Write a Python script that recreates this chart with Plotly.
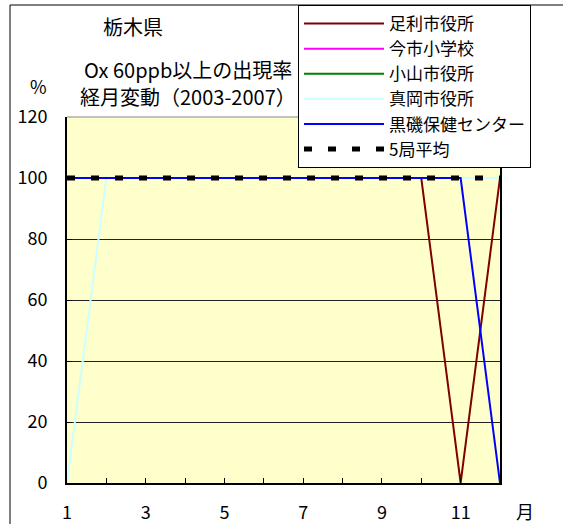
import plotly.graph_objects as go

months = list(range(1, 13))
series_names = ["足利市役所", "今市小学校", "小山市役所", "真岡市役所", "黒磯保健センター", "5局平均"]
ashikaga = [100, 100, 100, 100, 100, 100, 100, 100, 100, 100, 0, 100]
imaichi = [100, 100, 100, 100, 100, 100, 100, 100, 100, 100, 100, 100]
oyama = [100, 100, 100, 100, 100, 100, 100, 100, 100, 100, 100, 100]
moka = [0, 100, 100, 100, 100, 100, 100, 100, 100, 100, 100, 100]
kuroiso = [100, 100, 100, 100, 100, 100, 100, 100, 100, 100, 100, 0]
avg5 = [100, 100, 100, 100, 100, 100, 100, 100, 100, 100, 100, 100]
xtick_labels = ["1", "", "3", "", "5", "", "7", "", "9", "", "11", ""]
ytick_vals = [0, 20, 40, 60, 80, 100, 120]

FONT = "Noto Sans CJK JP"
colors = ["#800000", "#FF00FF", "#008000", "#CCFFFF", "#0000FF", "#000000"]
values = [ashikaga, imaichi, oyama, moka, kuroiso, avg5]

fig = go.Figure()
for name, vals, col in zip(series_names, values, colors):
    if name == "5局平均":
        line = dict(color=col, width=5, dash="8px,16px")
    else:
        line = dict(color=col, width=2)
    fig.add_trace(go.Scatter(x=months, y=vals, mode="lines", name=name, line=line))

W, H = 563, 524
L, R, T, B = 67, 500, 117, 483
def px(x):
    return (x - L) / (R - L)
def py(y):
    return (B - y) / (B - T)

def ann(text, x, y, size):
    return dict(text=text, x=px(x), y=py(y), xref="paper", yref="paper",
                xanchor="center", yanchor="middle", showarrow=False,
                font=dict(size=size))

fig.update_layout(
    width=W, height=H,
    margin=dict(l=L, r=W - R, t=T, b=H - B, autoexpand=False),
    paper_bgcolor="white",
    plot_bgcolor="#FFFFCC",
    font=dict(family=FONT, size=18, color="black"),
    showlegend=True,
    legend=dict(
        x=px(298), y=py(5), xanchor="left", yanchor="top",
        bgcolor="white", bordercolor="black", borderwidth=1,
        font=dict(family=FONT, size=17),
        itemwidth=80,
    ),
    xaxis=dict(
        range=[1, 12], tickvals=months, ticktext=xtick_labels,
        ticks="inside", ticklen=5, tickcolor="black",
        showline=True, linecolor="black", linewidth=2,
        showgrid=False, zeroline=False, ticklabelstandoff=12,
        tickfont=dict(size=18), automargin=False,
    ),
    yaxis=dict(
        range=[0, 120], tickvals=ytick_vals,
        ticks="inside", ticklen=5, tickcolor="black",
        showline=True, linecolor="black", linewidth=2, mirror=True,
        showgrid=True, gridcolor="#222222", gridwidth=1, zeroline=False,
        ticklabelstandoff=14, tickfont=dict(size=18), automargin=False,
    ),
    shapes=[
        dict(type="rect", xref="paper", yref="paper",
             x0=px(10), x1=px(600), y0=py(560), y1=py(5),
             line=dict(color="black", width=1), layer="below"),
        dict(type="line", xref="paper", yref="paper",
             x0=0, x1=1, y0=1, y1=1, line=dict(color="#888888", width=1)),
    ],
    annotations=[
        ann("栃木県", 133, 27, 20),
        ann("Ox 60ppb以上の出現率", 188, 70, 20),
        ann("経月変動（2003-2007）", 188, 97, 20),
        ann("%", 38, 86, 18),
        ann("月", 525, 511, 18),
    ],
)

fig.write_html("out.html", config={"displayModeBar": False},
               post_script="document.body.style.margin='0';")
